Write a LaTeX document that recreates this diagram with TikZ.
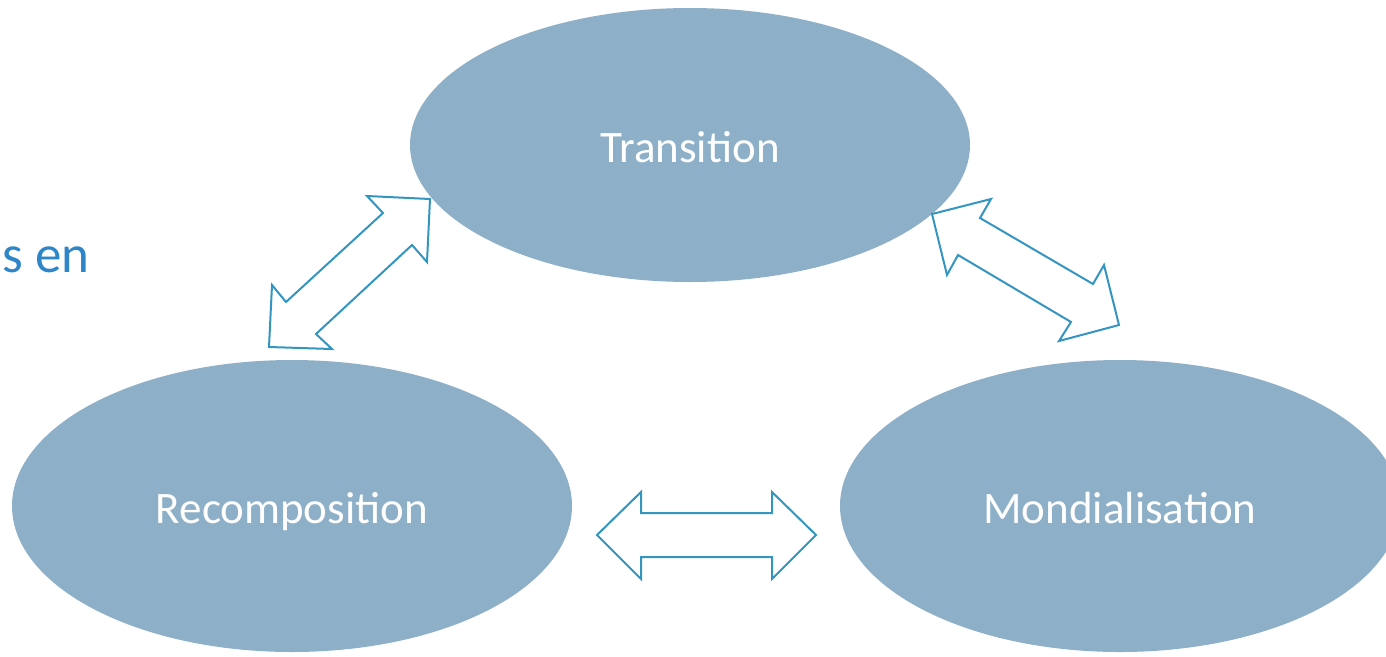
\documentclass[tikz,border=0pt]{standalone}
\usepackage{fontspec}
\setmainfont{Carlito}
\usetikzlibrary{shapes.geometric}
\definecolor{ellfill}{RGB}{141,176,200}
\definecolor{arrline}{RGB}{52,150,192}
\definecolor{txtblue}{RGB}{46,134,200}
\tikzset{
  bubble/.style={ellipse, fill=ellfill, draw=none, inner sep=0pt, text=white,
    text height=34pt, text depth=0pt,
    font=\fontsize{45}{54}\selectfont},
  blockarrow/.style={draw=arrline, line width=2pt, fill=white, line join=miter}
}
\begin{document}
\begin{tikzpicture}[x=1pt,y=-1pt]
\useasboundingbox (0,0) rectangle (1386,656);
\clip (0,0) rectangle (1386,656);
\node[bubble, minimum width=560pt, minimum height=274pt] (trans) at (690,145) {Transition};
\node[bubble, minimum width=560pt, minimum height=292pt] (recomp) at (292,506) {Recomposition};
\node[bubble, minimum width=560pt, minimum height=292pt] (mond) at (1120,506) {Mondialisation};
\node[anchor=base east, text=txtblue, font=\fontsize{53}{60}\selectfont, inner sep=0pt] (sen) at (90,272) {s en};
% block arrows
\draw[blockarrow] (430,199) -- (367,196) -- (383,213) -- (286,302) -- (272,285) -- (269,347)
  -- (332,349) -- (316,334) -- (412,245) -- (427,262) -- cycle;
\draw[blockarrow] (932,214) -- (991,199) -- (980,218) -- (1093,284) -- (1104,265) -- (1119,325)
  -- (1059,341) -- (1071,322) -- (958,255) -- (947,275) -- cycle;
\draw[blockarrow] (597,535) -- (641,492) -- (641,513) -- (772,513) -- (772,492) -- (816,535)
  -- (772,579) -- (772,557) -- (641,557) -- (641,579) -- cycle;
\end{tikzpicture}
\end{document}
